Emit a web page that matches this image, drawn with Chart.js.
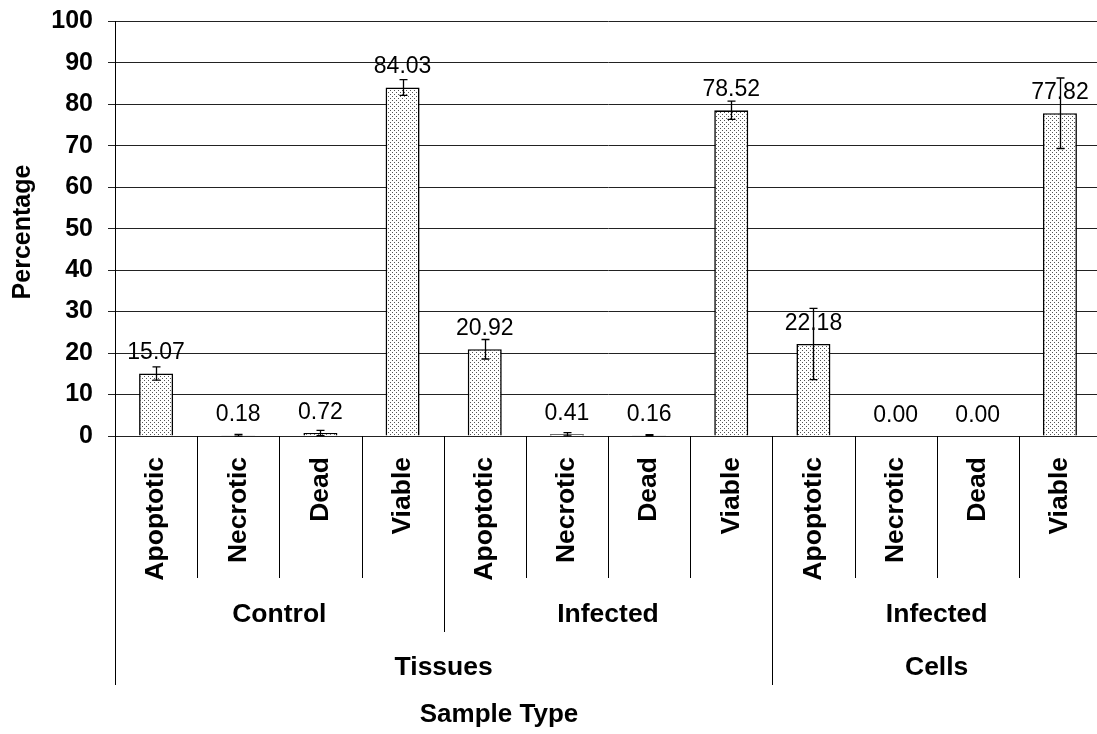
<!DOCTYPE html>
<html>
<head>
<meta charset="utf-8">
<script src="https://cdn.jsdelivr.net/npm/chart.js@4/dist/chart.umd.min.js"></script>
<style>
  html, body { margin: 0; padding: 0; background: #fff; overflow: hidden; }
  canvas { display: block; }
</style>
</head>
<body>
<canvas id="grafico" width="1101" height="734"></canvas>
<script>
// datos
const categorias = ['Apoptotic', 'Necrotic', 'Dead', 'Viable',
                    'Apoptotic', 'Necrotic', 'Dead', 'Viable',
                    'Apoptotic', 'Necrotic', 'Dead', 'Viable'];
const grupos = ['Control', 'Infected', 'Infected'];      // 4 categorias cada uno
const tipos = ['Tissues', 'Cells'];                        // 8 y 4 categorias
const tiposSpan = [8, 4];
const porcentajes = [15.07, 0.18, 0.72, 84.03, 20.92, 0.41, 0.16, 78.52, 22.18, 0.00, 0.00, 77.82];
const errores = [1.6, 0.2, 0.65, 1.9, 2.35, 0.4, 0.15, 2.2, 8.6, 0, 0, 8.5];
const yMin = 0, yMax = 100, yPaso = 10;

const FUENTE = "'Liberation Sans', Arial, sans-serif";

function crearTrama() {
    const c = document.createElement('canvas');
    c.width = 4; c.height = 4;
    const g = c.getContext('2d');
    g.fillStyle = '#ffffff';
    g.fillRect(0, 0, 4, 4);
    g.fillStyle = '#555555';
    g.fillRect(0, 0, 1, 1);
    g.fillRect(2, 2, 1, 1);
    return g.createPattern(c, 'repeat');
}

// etiquetas, barras de error y ejes de varios niveles
const extras = {
    id: 'extras',
    afterDatasetsDraw(chart) {
        const ctx = chart.ctx;
        const xs = chart.scales.x, ys = chart.scales.y;
        ctx.save();
        ctx.strokeStyle = '#000';
        ctx.lineWidth = 1.3;
        porcentajes.forEach((v, i) => {
            const e = errores[i];
            if (!e) return;
            const x = Math.round(xs.getPixelForValue(i)) + 0.5;
            const y1 = ys.getPixelForValue(v + e), y2 = ys.getPixelForValue(v - e);
            ctx.beginPath();
            ctx.moveTo(x, y1); ctx.lineTo(x, y2);
            ctx.moveTo(x - 4, y1); ctx.lineTo(x + 4, y1);
            ctx.moveTo(x - 4, y2); ctx.lineTo(x + 4, y2);
            ctx.stroke();
        });
        ctx.fillStyle = '#000';
        ctx.font = '23px ' + FUENTE;
        ctx.textAlign = 'center';
        ctx.textBaseline = 'alphabetic';
        porcentajes.forEach((v, i) => {
            ctx.fillText(v.toFixed(2), xs.getPixelForValue(i), ys.getPixelForValue(v) - 14);
        });
        ctx.restore();
    },
    afterDraw(chart) {
        const ctx = chart.ctx;
        const xs = chart.scales.x, ys = chart.scales.y;
        const ancho = (xs.right - xs.left) / categorias.length;
        const base = ys.bottom;
        ctx.save();
        ctx.strokeStyle = '#000';
        ctx.lineWidth = 1;
        // separadores
        for (let i = 0; i <= categorias.length; i++) {
            let fin = 578;
            if (i === 0 || i === 8 || i === 12) fin = 685;
            else if (i % 4 === 0) fin = 632;
            const x = Math.round(xs.left + i * ancho) + 0.5;
            ctx.beginPath();
            ctx.moveTo(x, base); ctx.lineTo(x, fin);
            ctx.stroke();
        }
        ctx.fillStyle = '#000';
        // categorias giradas
        ctx.font = 'bold 26.5px ' + FUENTE;
        categorias.forEach((c, i) => {
            ctx.save();
            ctx.translate(xs.getPixelForValue(i), base + 21);
            ctx.rotate(-Math.PI / 2);
            ctx.textAlign = 'right';
            ctx.textBaseline = 'middle';
            ctx.fillText(c, 0, 0);
            ctx.restore();
        });
        ctx.textAlign = 'center';
        ctx.textBaseline = 'middle';
        ctx.font = 'bold 26.5px ' + FUENTE;
        grupos.forEach((g, k) => {
            ctx.fillText(g, xs.left + (k * 4 + 2) * ancho, 615);
        });
        let desde = 0;
        tipos.forEach((t, k) => {
            ctx.fillText(t, xs.left + (desde + tiposSpan[k] / 2) * ancho, 668);
            desde += tiposSpan[k];
        });
        // titulos de ejes
        ctx.font = 'bold 26px ' + FUENTE;
        ctx.fillText('Sample Type', 499, 715);
        ctx.font = 'bold 25px ' + FUENTE;
        ctx.save();
        ctx.translate(23, 232);
        ctx.rotate(-Math.PI / 2);
        ctx.fillText('Percentage', 0, 0);
        ctx.restore();
        ctx.restore();
    }
};

new Chart(document.getElementById('grafico'), {
    type: 'bar',
    data: {
        labels: categorias,
        datasets: [{
            data: porcentajes,
            backgroundColor: crearTrama(),
            borderColor: '#000',
            borderWidth: 1.6,
            barPercentage: 0.414,
            categoryPercentage: 1
        }]
    },
    options: {
        responsive: false,
        animation: false,
        layout: { padding: { top: 19, right: 0, left: 0, bottom: 0 } },
        plugins: { legend: { display: false }, tooltip: { enabled: false } },
        scales: {
            x: {
                ticks: { display: false },
                grid: { display: false },
                border: { display: false },
                afterFit(s) { s.height = 734 - 436; }
            },
            y: {
                min: yMin, max: yMax,
                ticks: {
                    stepSize: yPaso,
                    color: '#000',
                    padding: 15,
                    font: { family: FUENTE, size: 25, weight: 'bold', lineHeight: 0.5 }
                },
                grid: { color: '#222', lineWidth: 1, tickLength: 7 },
                border: { color: '#000', width: 1 },
                afterFit(s) { s.width = 115; }
            }
        }
    },
    plugins: [extras]
});
</script>
</body>
</html>
